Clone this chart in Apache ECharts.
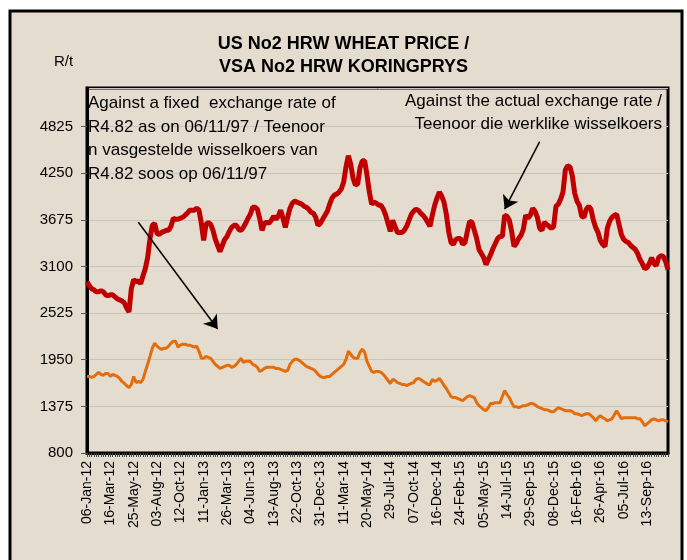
<!DOCTYPE html>
<html>
<head>
<meta charset="utf-8">
<script src="https://cdn.jsdelivr.net/npm/echarts@6/dist/echarts.min.js"></script>
<style>
html,body{margin:0;padding:0;background:#fff;}
#chart{width:687px;height:560px;}
</style>
</head>
<body>
<div id="chart"></div>
<script>
// dates shown on the x axis, one every 10 weekly quotes
var tickLabels = ['06-Jan-12','16-Mar-12','25-May-12','03-Aug-12','12-Oct-12','11-Jan-13','26-Mar-13',
  '04-Jun-13','13-Aug-13','22-Oct-13','31-Dec-13','11-Mar-14','20-May-14','29-Jul-14','07-Oct-14',
  '16-Dec-14','24-Feb-15','05-May-15','14-Jul-15','29-Sep-15','08-Dec-15','16-Feb-16','26-Apr-16',
  '05-Jul-16','13-Sep-16'];
var yTicks = [800, 1375, 1950, 2525, 3100, 3675, 4250, 4825];

// R/t against the actual exchange rate
var actualRate = [
2911,2862,2824,2812,2787,2787,2800,2787,2750,2738,
2750,2750,2725,2700,2688,2675,2650,2588,2539,2824,
2936,2911,2924,2887,2986,3073,3209,3445,3607,3632,
3508,3495,3520,3532,3545,3545,3595,3694,3681,3681,
3694,3706,3731,3756,3793,3793,3793,3818,3793,3632,
3420,3619,3644,3619,3545,3433,3358,3284,3358,3433,
3470,3532,3582,3607,3607,3557,3545,3582,3632,3694,
3743,3830,3830,3806,3694,3545,3632,3644,3632,3669,
3719,3681,3719,3793,3694,3582,3706,3818,3880,3905,
3893,3880,3868,3843,3830,3806,3768,3756,3706,3607,
3632,3681,3731,3781,3868,3942,3980,3992,4017,4054,
4141,4327,4464,4365,4191,4104,4116,4315,4402,4402,
4228,4017,3868,3893,3880,3855,3855,3806,3731,3632,
3532,3669,3595,3520,3520,3520,3545,3595,3669,3743,
3781,3806,3793,3756,3731,3694,3644,3595,3731,3855,
3942,4017,3967,3893,3743,3532,3396,3371,3433,3445,
3445,3371,3396,3532,3657,3644,3545,3445,3309,3259,
3209,3123,3185,3247,3321,3383,3445,3470,3470,3731,
3719,3669,3532,3346,3383,3445,3483,3557,3731,3694,
3731,3818,3781,3706,3570,3545,3644,3619,3595,3570,
3595,3843,3868,3930,4017,4290,4340,4327,4216,4004,
3905,3855,3719,3706,3806,3843,3806,3669,3582,3520,
3420,3371,3346,3570,3657,3706,3731,3743,3619,3495,
3433,3408,3396,3358,3334,3309,3259,3185,3135,3073,
3085,3135,3209,3135,3110,3209,3234,3222,3160,3060
];

// R/t against a fixed exchange rate of R4.82 (06/11/97)
var fixedRate = [
1744,1744,1732,1744,1769,1794,1769,1756,1781,1781,
1744,1769,1756,1744,1719,1682,1657,1632,1607,1645,
1744,1669,1682,1669,1707,1806,1893,1992,2092,2154,
2117,2092,2079,2092,2092,2117,2154,2178,2178,2104,
2129,2141,2141,2129,2129,2117,2104,2117,2054,1967,
1967,1992,1980,1967,1930,1893,1868,1843,1856,1868,
1881,1881,1856,1868,1893,1930,1967,1918,1930,1930,
1930,1893,1881,1856,1806,1818,1843,1856,1856,1856,
1856,1843,1843,1831,1818,1806,1818,1893,1930,1955,
1955,1942,1918,1893,1868,1856,1843,1831,1806,1769,
1744,1732,1732,1744,1744,1769,1794,1818,1843,1868,
1893,1955,2054,2017,1980,1967,1967,2042,2079,2042,
1930,1868,1806,1794,1806,1806,1794,1769,1732,1694,
1657,1707,1694,1669,1657,1645,1645,1632,1645,1657,
1669,1707,1719,1707,1682,1669,1645,1645,1707,1682,
1694,1719,1682,1632,1595,1545,1496,1483,1483,1471,
1458,1446,1471,1496,1508,1496,1483,1421,1384,1359,
1334,1322,1359,1409,1409,1421,1421,1421,1496,1570,
1520,1483,1421,1371,1371,1359,1371,1384,1384,1396,
1409,1409,1396,1371,1359,1346,1334,1334,1322,1309,
1309,1334,1359,1346,1334,1322,1322,1322,1309,1284,
1284,1272,1260,1272,1284,1284,1260,1235,1197,1235,
1260,1235,1222,1197,1210,1222,1272,1322,1272,1222,
1235,1235,1235,1235,1235,1235,1222,1222,1185,1135,
1160,1185,1210,1222,1210,1197,1210,1210,1197,1185
];

var months = ['Jan','Feb','Mar','Apr','May','Jun','Jul','Aug','Sep','Oct','Nov','Dec'];
function parseDay(s) {
  var p = s.split('-');
  return Date.UTC(2000 + (+p[2]), months.indexOf(p[1]), +p[0]);
}
function fmtDay(t) {
  var d = new Date(t);
  return ('0' + d.getUTCDate()).slice(-2) + '-' + months[d.getUTCMonth()] + '-' + ('' + d.getUTCFullYear()).slice(-2);
}
// weekly quote dates between the labelled ones
var weeks = [];
tickLabels.forEach(function (lab) {
  var t = parseDay(lab);
  for (var k = 0; k < 10 && weeks.length < actualRate.length; k++) {
    weeks.push(k === 0 ? lab : fmtDay(t + k * 7 * 86400000));
  }
});

var narrow = "'Liberation Sans Narrow', 'Arial Narrow', 'Liberation Sans', Arial, sans-serif";
var chart = echarts.init(document.getElementById('chart'));

var option = {
  backgroundColor: '#ffffff',
  animation: false,
  graphic: [
    {//outer frame
      type: 'rect', z: -10, silent: true,
      shape: {x: 10, y: 11, width: 672, height: 560},
      style: {fill: '#E4DCCF', stroke: '#000', lineWidth: 3}
    },
    {type: 'text', left: 'center', top: 33, z: 10,
      style: {text: 'US No2 HRW WHEAT PRICE /\nVSA No2 HRW KORINGPRYS', font: 'bold 18px ' + narrow,
        fill: '#000', textAlign: 'center', lineHeight: 23}},
    {type: 'text', left: 54, top: 54,
      style: {text: 'R/t', font: '15px ' + narrow, fill: '#000'}},
    {type: 'text', left: 88, top: 92, z: 10,
      style: {text: 'Against a fixed  exchange rate of\nR4.82 as on 06/11/97 / Teenoor\nn vasgestelde wisselkoers van\nR4.82 soos op 06/11/97',
        font: '17px ' + narrow, fill: '#000', lineHeight: 23.5}},
    {type: 'text', right: 25, top: 90, z: 10,
      style: {text: 'Against the actual exchange rate /\nTeenoor die werklike wisselkoers',
        font: '17px ' + narrow, fill: '#000', textAlign: 'right', lineHeight: 23}}
  ],
  grid: {
    left: 87, right: 19, top: 88, bottom: 107,
    show: true, borderColor: '#000', borderWidth: 3, backgroundColor: 'transparent'
  },
  xAxis: {
    type: 'category',
    data: weeks,
    boundaryGap: false,
    axisLine: {lineStyle: {color: '#000', width: 3}},
    axisTick: {show: true, interval: 0, length: 4, lineStyle: {color: '#444', width: 1}},
    axisLabel: {interval: 9, rotate: 90, color: '#000', fontSize: 14, fontFamily: narrow, margin: 8}
  },
  yAxis: {
    type: 'value',
    min: 800, max: 5300, interval: 575,
    axisLine: {show: true, lineStyle: {color: '#000', width: 3}},
    axisTick: {show: true, length: 6, lineStyle: {color: '#555'}},
    axisLabel: {color: '#000', fontSize: 15, fontFamily: narrow, margin: 14, showMaxLabel: false,
      formatter: function (v) { return yTicks.indexOf(v) >= 0 ? v : ''; }},
    splitLine: {lineStyle: {color: '#C9C4BD', width: 1}}
  },
  series: [
    {
      name: 'Actual',
      type: 'line',
      data: actualRate,
      showSymbol: false,
      lineStyle: {color: '#C00000', width: 5},
      itemStyle: {color: '#C00000'},
      markLine: {
        silent: true,
        symbol: ['none', 'arrow'],
        symbolSize: 13,
        label: {show: false},
        lineStyle: {color: '#000', width: 1.5, type: 'solid'},
        data: [
          [{coord: [22, 3644]}, {coord: [56, 2328]}],
          [{coord: [194, 4638]}, {coord: [179, 3806]}]
        ]
      }
    },
    {
      name: 'Fixed',
      type: 'line',
      data: fixedRate,
      showSymbol: false,
      lineStyle: {color: '#E46C0A', width: 3},
      itemStyle: {color: '#E46C0A'}
    }
  ]
};
chart.setOption(option);
</script>
</body>
</html>
